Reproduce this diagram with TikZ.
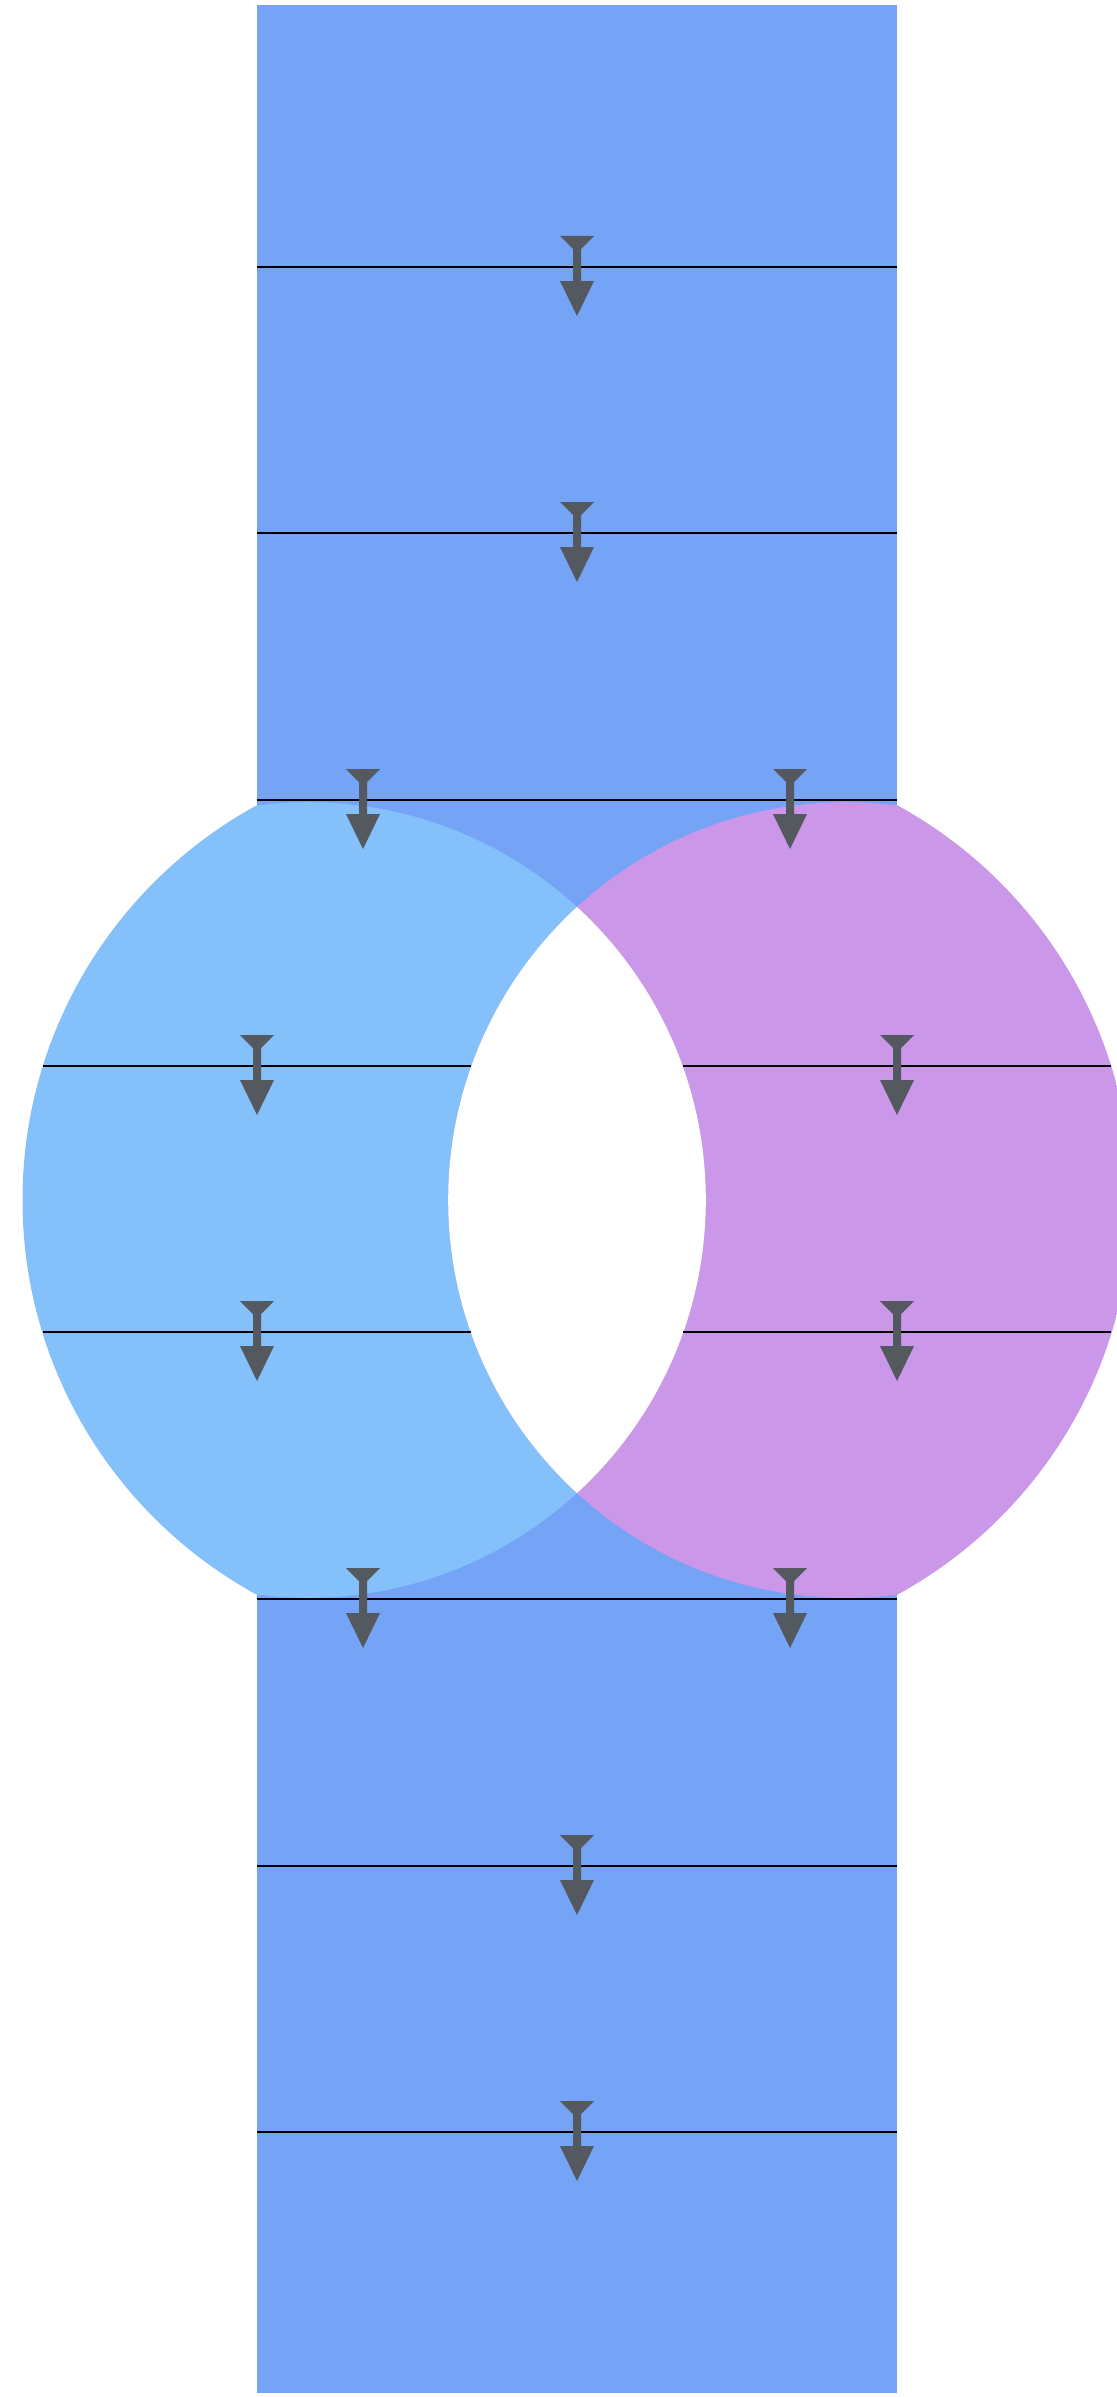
\documentclass[tikz,border=0pt]{standalone}
\usepackage{tikz}
\usetikzlibrary{calc}
\usepackage{xcolor}
\definecolor{beamBlue}{HTML}{75A3F5}
\definecolor{lensBlue}{HTML}{84C0F9}
\definecolor{lensViolet}{HTML}{CA97E9}
\definecolor{tipGrey}{HTML}{54585F}
\tikzset{
  front/.style   = {line width=1.1pt, color=black, line cap=butt},
  flowtip/.style = {fill=tipGrey},
}
% one direction mark sitting on a wavefront. #1 x, #2 y of the front
\newcommand{\flowmark}[2]{%
  \fill[flowtip] ({#1-17},{#2-31}) -- ++(34,0) -- ++(-13,13) -- ++(0,32)
    -- ++(13,0) -- ++(-17,35) -- ++(-17,-35) -- ++(13,0) -- ++(0,-32) -- cycle;}

\begin{document}
\begin{tikzpicture}[x=0.5pt, y=-0.5pt]

\fill[white] (0,0) rectangle (1116,2397);
\useasboundingbox (0,0) rectangle (1116,2397);

% circle centres: outer rims and the two inner faces
\coordinate (lOut) at (472,1200);
\coordinate (rOut) at (682,1200);
\coordinate (lIn)  at (308,1200);
\coordinate (rIn)  at (846,1200);

% ===================== the beam ==========================
\fill[beamBlue] (257,5) rectangle (897,2393);

% ===================== the two halves ====================
\begin{scope}
  \clip (lOut) circle (449.5);
  \fill[lensBlue] (lIn) circle (397.8);
\end{scope}
\begin{scope}
  \clip (rOut) circle (449.5);
  \fill[lensViolet] (rIn) circle (397.8);
\end{scope}
% the gap between them stays empty
\begin{scope}
  \clip (lIn) circle (397.8);
  \fill[white] (rIn) circle (397.8);
\end{scope}

% ===================== wavefronts ========================
\foreach \yy in {267,533,800,1599,1866,2132}
  {\draw[front] (257,\yy) -- (897,\yy);}
\foreach \yy in {1066,1332}
  {\draw[front] (43,\yy) -- (471,\yy);
   \draw[front] (683,\yy) -- (1111,\yy);}

\foreach \yy in {267,533,1866,2132} {\flowmark{577}{\yy}}
\foreach \yy in {800,1599} {\flowmark{363}{\yy}\flowmark{790}{\yy}}
\foreach \yy in {1066,1332} {\flowmark{257}{\yy}\flowmark{897}{\yy}}

\end{tikzpicture}
\end{document}
